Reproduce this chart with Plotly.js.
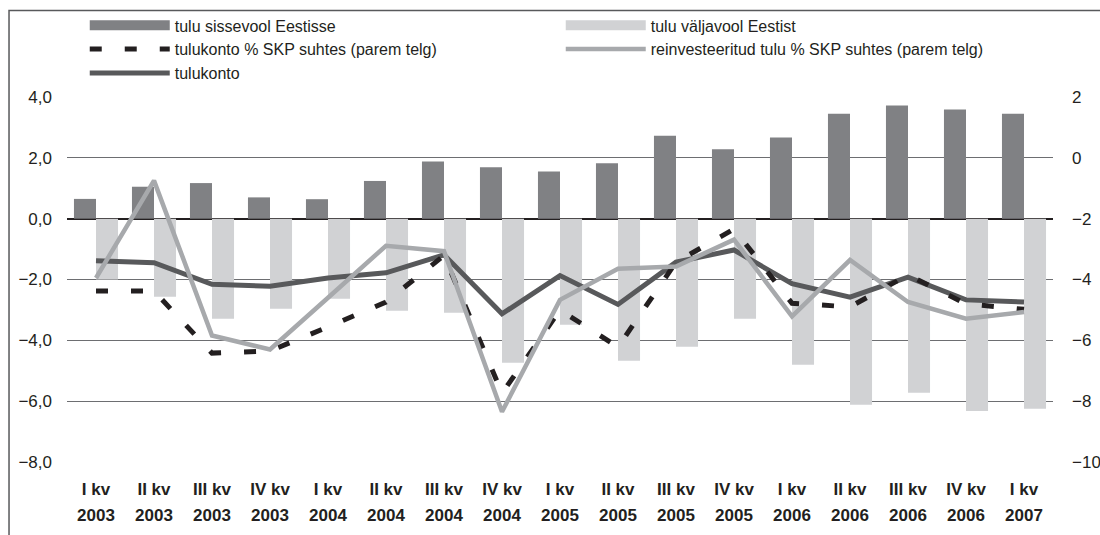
<!DOCTYPE html>
<html>
<head>
<meta charset="utf-8">
<script src="https://cdn.plot.ly/plotly-3.0.1.min.js"></script>
<style>html,body{margin:0;padding:0;background:#fff;}#chart{width:1100px;height:535px;}</style>
</head>
<body>
<div id="chart"></div>
<script>
// Categories
var quarters = ['I kv','II kv','III kv','IV kv','I kv','II kv','III kv','IV kv','I kv','II kv','III kv','IV kv','I kv','II kv','III kv','IV kv','I kv'];
var years = ['2003','2003','2003','2003','2004','2004','2004','2004','2005','2005','2005','2005','2006','2006','2006','2006','2007'];

// Series (left axis)
var inflow = [0.65, 1.05, 1.17, 0.70, 0.64, 1.24, 1.88, 1.69, 1.55, 1.82, 2.73, 2.28, 2.67, 3.45, 3.72, 3.59, 3.45];
var outflow = [-2.00, -2.57, -3.29, -2.96, -2.63, -3.03, -3.09, -4.74, -3.49, -4.67, -4.21, -3.29, -4.80, -6.12, -5.72, -6.32, -6.25];
var incomeAccount = [-1.38, -1.45, -2.16, -2.22, -1.95, -1.78, -1.19, -3.13, -1.87, -2.82, -1.43, -1.03, -2.14, -2.58, -1.92, -2.67, -2.74];

// Series (right axis)
var incomePctGdp = [-4.38, -4.38, -6.42, -6.35, -5.56, -4.74, -3.21, -7.74, -5.00, -6.22, -3.43, -2.34, -4.78, -4.90, -3.85, -4.80, -4.98];
var reinvestPctGdp = [-3.95, -0.75, -5.84, -6.30, -4.60, -2.89, -3.07, -8.35, -4.67, -3.65, -3.57, -2.69, -5.21, -3.36, -4.74, -5.29, -5.07];

var leftTicks = [-8, -6, -4, -2, 0, 2, 4];
var rightTicks = [-10, -8, -6, -4, -2, 0, 2];

var idx = quarters.map(function(_, i){ return i; });
var FONT = 'Liberation Sans, Arial, Helvetica, sans-serif';
var C_IN = '#808184', C_OUT = '#d1d2d4';

var traces = [
  {type:'bar', name:'tulu sissevool Eestisse', legendgroup:'in', showlegend:false, x:idx, y:inflow, marker:{color:C_IN}, xaxis:'x', yaxis:'y'},
  {type:'bar', name:'tulu väljavool Eestist', legendgroup:'out', showlegend:false, x:idx, y:outflow, marker:{color:C_OUT}, xaxis:'x', yaxis:'y'},
  // legend keys for the bar series (wide rectangle swatches, as in the original)
  {type:'scatter', mode:'lines', name:'tulu sissevool Eestisse', legendgroup:'in', x:[null], y:[null], line:{color:C_IN, width:12}, xaxis:'x', yaxis:'y'},
  {type:'scatter', mode:'lines', name:'tulu väljavool Eestist', legendgroup:'out', x:[null], y:[null], line:{color:C_OUT, width:12}, xaxis:'x', yaxis:'y'},
  {type:'scatter', mode:'lines', name:'tulukonto % SKP suhtes (parem telg)', x:idx, y:incomePctGdp,
   line:{color:'#231f20', width:5, dash:'12px,23px'}, xaxis:'x2', yaxis:'y2'},
  {type:'scatter', mode:'lines', name:'reinvesteeritud tulu % SKP suhtes (parem telg)', x:idx, y:reinvestPctGdp,
   line:{color:'#a7a9ac', width:4.5}, xaxis:'x2', yaxis:'y2'},
  {type:'scatter', mode:'lines', name:'tulukonto', x:idx, y:incomeAccount,
   line:{color:'#58595b', width:5}, xaxis:'x', yaxis:'y'}
];

var layout = {
  width:1100, height:535,
  margin:{l:67, r:47, t:97, b:73, pad:0},
  paper_bgcolor:'#ffffff', plot_bgcolor:'#ffffff',
  font:{family:FONT, size:16, color:'#231f20'},
  separators:',.',
  barmode:'group', bargap:0.24, bargroupgap:0,
  showlegend:true,
  legend:{orientation:'h', x:0.018, xanchor:'left', yref:'container', y:0.9843, yanchor:'top',
          entrywidth:381, entrywidthmode:'pixels', itemwidth:80,
          font:{family:FONT, size:16, color:'#231f20'}, bgcolor:'rgba(0,0,0,0)', tracegroupgap:0,
          traceorder:'normal'},
  xaxis:{range:[-0.5, 16.5], tickmode:'array', tickvals:idx, ticktext:quarters,
         showgrid:false, zeroline:false, showline:false, ticks:'',
         tickfont:{family:FONT, size:17, color:'#231f20', weight:'bold'}, ticklabelstandoff:15},
  xaxis2:{range:[-0.5, 16.5], overlaying:'x', anchor:'y2', side:'bottom', tickmode:'array', tickvals:idx, ticktext:years,
          showgrid:false, zeroline:false, showline:false, ticks:'',
          tickfont:{family:FONT, size:17, color:'#231f20', weight:'bold'}, ticklabelstandoff:41},
  yaxis:{range:[-8, 4], tickmode:'array', tickvals:leftTicks, tickformat:'.1f',
         showgrid:true, gridcolor:'#6d6e71', gridwidth:1.2,
         zeroline:true, zerolinecolor:'#231f20', zerolinewidth:1.8,
         showline:false, ticks:'', ticklabelstandoff:14,
         tickfont:{family:FONT, size:17, color:'#231f20'}},
  yaxis2:{range:[-10, 2], overlaying:'y', anchor:'x2', side:'right', tickmode:'array', tickvals:rightTicks,
          showgrid:false, zeroline:false, showline:false, ticks:'', ticklabelstandoff:18,
          tickfont:{family:FONT, size:17, color:'#231f20'}},
  shapes:[
    {type:'rect', xref:'paper', yref:'paper', x0:-0.0588, x1:1.2, y0:-0.4, y1:1.237,
     line:{color:'#58595b', width:1.5}, fillcolor:'rgba(0,0,0,0)', layer:'below'}
  ]
};

Plotly.newPlot('chart', traces, layout, {displayModeBar:false, staticPlot:true});
</script>
</body>
</html>
